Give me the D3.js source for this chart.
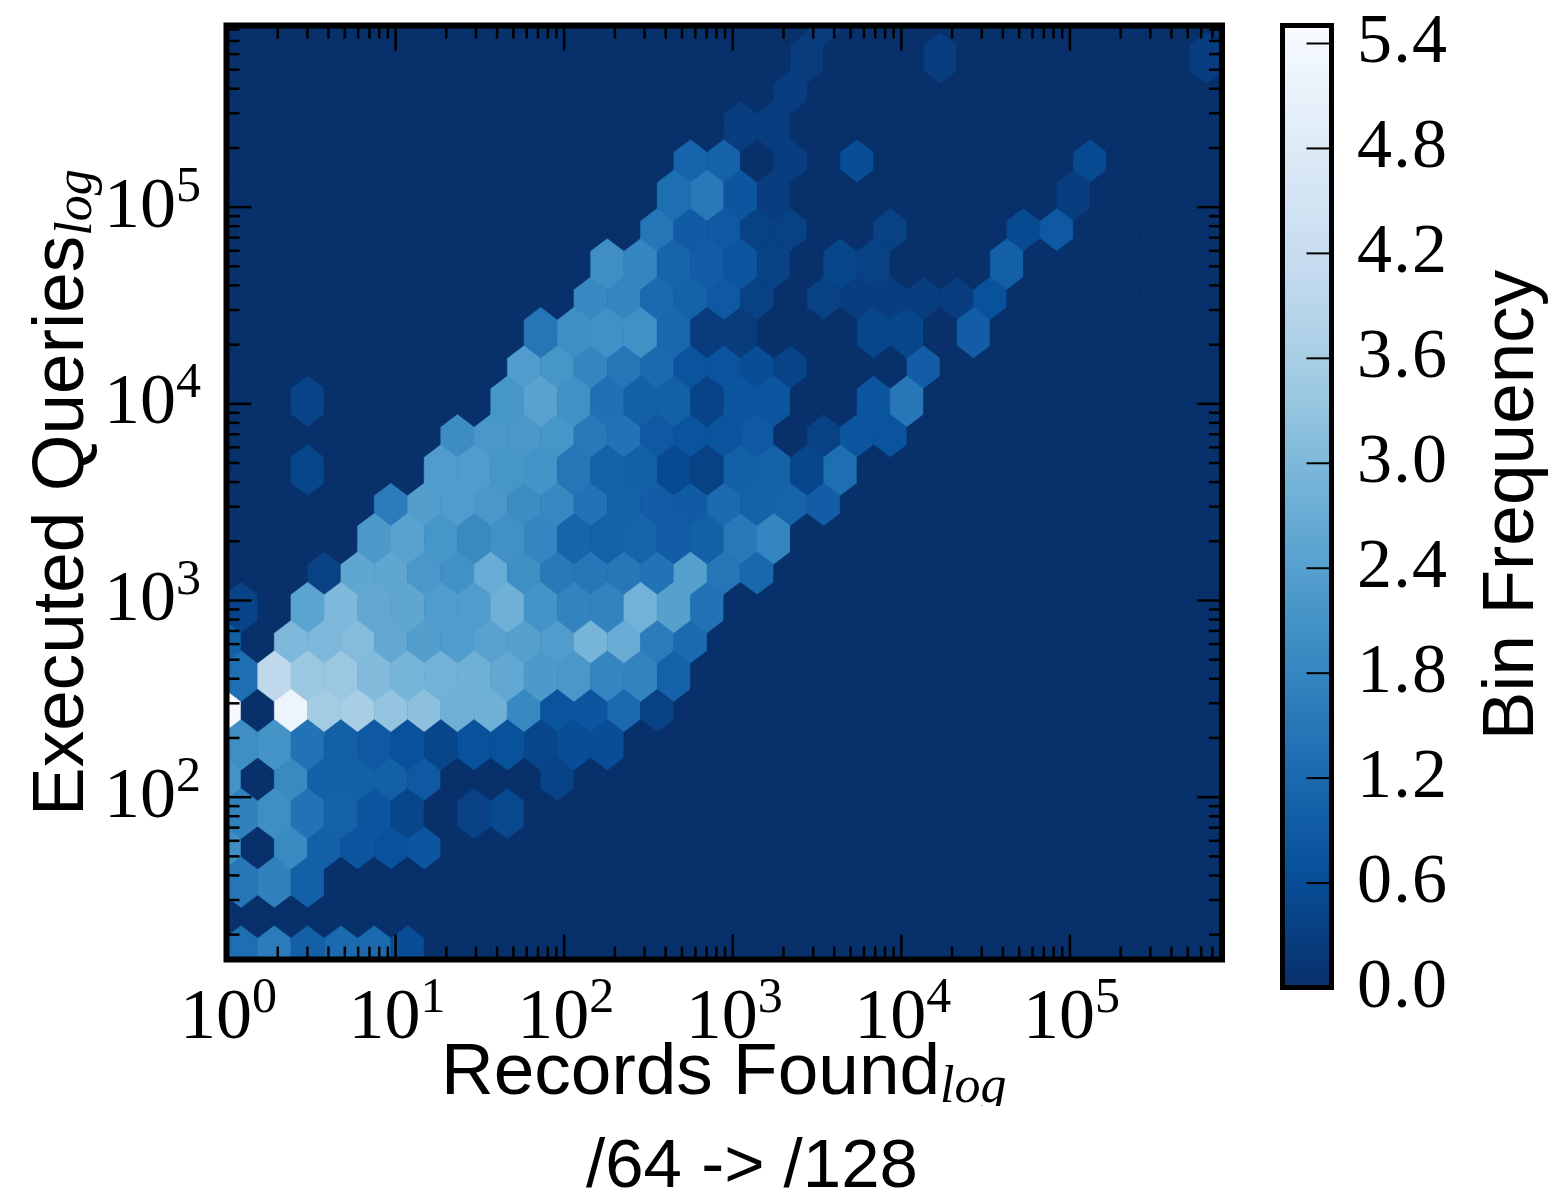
<!DOCTYPE html>
<html>
<head>
<meta charset="utf-8">
<script src="https://d3js.org/d3.v7.min.js"></script>
<style>
  html, body { margin: 0; padding: 0; background: #fff; }
  svg { display: block; filter: blur(0.6px); }
  text { fill: #000; }
  .sans { font-family: "Liberation Sans", Arial, sans-serif; font-size: 73px; }
  .serif { font-family: "Liberation Serif", serif; font-size: 72px; }
  .sub { font-family: "Liberation Serif", serif; font-style: italic; font-size: 52px; }
</style>
</head>
<body>
<svg id="chart" width="1554" height="1194"></svg>
<script>
// colormap, dark to light (Blues reversed)
var bluesStops = ["#08306b", "#08519c", "#2171b5", "#4292c6", "#6baed6", "#9ecae1", "#c6dbef", "#deebf7", "#f7fbff"];
var binMax = 5.5;
var binTicks = [0, 0.6, 1.2, 1.8, 2.4, 3.0, 3.6, 4.2, 4.8, 5.4];
var decades = [1, 10, 100, 1000, 10000, 100000];
var xDecades = [0, 1, 2, 3, 4, 5];
var yDecades = [2, 3, 4, 5];

// lattice A, one array per row, bottom row first. index = column
var a0 = [1.3, 1.6, 1.0, 1.2, 1.2, 0.6];
var a1 = [1.5, 1.7, 1.0];
var a2 = [1.7, 2.0, 1.4, 1.05, 0.8, 0.45, 0, 0.35, 0.5];
var a3 = [2.0, 2.1, 1.4, 1.0, 0.85, 0.7, 0.45, 0.7, 0.7, 0.45, 0.6, 0.6];
var a4 = [1.3, 4.0, 3.4, 3.4, 3.05, 2.9, 2.85, 2.8, 2.6, 2.25, 2.2, 1.8, 1.75, 1.05];
var a5 = [0.4, 0, 2.5, 3.0, 2.6, 2.55, 2.3, 2.3, 2.8, 2.1, 1.75, 1.75, 2.85, 2.4, 1.4];
var a6 = [0, 0, 0, 0, 2.25, 2.45, 2.15, 1.9, 2.05, 1.8, 1.1, 1.05, 1.1, 0.95, 1.0, 1.55, 1.8];
var a7 = [0, 0, 0.45, 0, 0, 0, 2.3, 2.3, 2.15, 2.1, 1.45, 1.05, 1.0, 0.55, 0.35, 1.0, 1.05, 0.45, 1.3];
var a8 = [0, 0, 0.4, 0, 0, 0, 0, 0, 2.15, 2.45, 2.05, 1.35, 1.0, 1.0, 0.4, 0.8, 0.8, 0, 0, 0.8, 1.5];
var a9 = [0, 0, 0, 0, 0, 0, 0, 0, 0, 1.45, 2.0, 2.05, 2.05, 1.15, 0.25, 0.25, 0, 0, 0, 0.45, 0.45, 0, 0.95];
var a10 = [0, 0, 0, 0, 0, 0, 0, 0, 0, 0, 0, 2.0, 1.8, 1.1, 0.95, 0.8, 0.35, 0, 0.45, 0.35, 0, 0, 0, 1.0];
var a11 = [0, 0, 0, 0, 0, 0, 0, 0, 0, 0, 0, 0, 0, 1.3, 1.55, 0.8, 0.3, 0, 0, 0, 0, 0, 0, 0, 0, 0.3];
var a12 = [0, 0, 0, 0, 0, 0, 0, 0, 0, 0, 0, 0, 0, 0, 0, 0.3, 0.3];
var a13 = [0, 0, 0, 0, 0, 0, 0, 0, 0, 0, 0, 0, 0, 0, 0, 0, 0, 0.25, 0, 0, 0, 0.3, 0, 0, 0, 0, 0, 0, 0, 0.3];

// lattice B, same idea
var b0 = [];
var b1 = [2.0, 0, 1.9, 1.0, 0.8, 0.7, 0.8];
var b2 = [2.1, 0, 1.9, 1.0, 1.0, 1.0, 0.85, 0, 0, 0, 0.4];
var b3 = [5.5, 0, 5.2, 3.5, 3.6, 3.3, 3.2, 2.8, 2.8, 1.85, 0.75, 0.8, 1.2, 0.35];
var b4 = [1.0, 0, 3.0, 3.0, 3.1, 2.6, 2.35, 2.3, 2.45, 2.4, 2.3, 2.9, 2.7, 1.6, 1.25];
var b5 = [0, 0, 0, 0.35, 2.55, 2.55, 2.2, 2.05, 2.7, 2.0, 1.55, 1.5, 1.5, 1.4, 2.4, 1.45, 1.15];
var b6 = [0, 0, 0, 0, 0, 1.6, 2.35, 2.3, 2.2, 1.95, 1.85, 1.4, 1.05, 0.95, 0.9, 1.25, 1.05, 1.1, 0.95];
var b7 = [0, 0, 0, 0, 0, 0, 0, 1.95, 2.2, 2.2, 2.15, 1.55, 1.4, 0.85, 0.75, 0.75, 0.85, 0, 0.35, 0.8, 0.75];
var b8 = [0, 0, 0, 0, 0, 0, 0, 0, 0, 2.3, 2.15, 1.8, 1.45, 1.2, 0.75, 0.75, 0.6, 0.4, 0, 0, 0, 0.95];
var b9 = [0, 0, 0, 0, 0, 0, 0, 0, 0, 0, 0, 1.85, 1.8, 1.2, 1.05, 0.85, 0.35, 0, 0.35, 0.3, 0.3, 0.3, 0.3, 0.7];
var b10 = [0, 0, 0, 0, 0, 0, 0, 0, 0, 0, 0, 0, 0, 1.45, 0.9, 0.85, 0.35, 0.35, 0, 0, 0.35, 0, 0, 0, 0.55, 0.85];
var b11 = [0, 0, 0, 0, 0, 0, 0, 0, 0, 0, 0, 0, 0, 0, 1.1, 1.05, 0, 0.3, 0, 0.6, 0, 0, 0, 0, 0, 0, 0.55];
var b12 = [0, 0, 0, 0, 0, 0, 0, 0, 0, 0, 0, 0, 0, 0, 0, 0, 0, 0.3];
var b13 = [0, 0, 0, 0, 0, 0, 0, 0, 0, 0, 0, 0, 0, 0, 0, 0, 0, 0, 0.25];

var rowsA = [a0, a1, a2, a3, a4, a5, a6, a7, a8, a9, a10, a11, a12, a13];
var rowsB = [b0, b1, b2, b3, b4, b5, b6, b7, b8, b9, b10, b11, b12, b13];

// hex grid in log10 units
var colStep = 0.1975, rowStep = 0.3493;
var hexHalfW = 0.09875, hexHalfH = 0.1286;
var latA = { x0: 0.086, y0: 1.2155 };
var latB = { x0: -0.0128, y0: 1.3902 };
var nCols = 31;

var svg = d3.select("#chart");

var x = d3.scaleLog().domain([1, Math.pow(10, 5.905)]).range([226.5, 1222]);
var y = d3.scaleLog().domain([Math.pow(10, 1.172), Math.pow(10, 5.921)]).range([959.5, 25.5]);
var color = d3.scaleLinear()
  .domain(bluesStops.map(function (c, i) { return i / (bluesStops.length - 1) * binMax; }))
  .range(bluesStops)
  .interpolate(d3.interpolateRgb);
var barY = d3.scaleLinear().domain([0, binMax]).range([987.5, 25.5]);

var defs = svg.append("defs");
defs.append("clipPath").attr("id", "plotClip").append("rect")
  .attr("x", x.range()[0]).attr("y", y.range()[1])
  .attr("width", x.range()[1] - x.range()[0]).attr("height", y.range()[0] - y.range()[1]);
// the source picture cuts the x label just under the baseline
defs.append("clipPath").attr("id", "xLabelClip").append("rect")
  .attr("x", 300).attr("y", 1020).attr("width", 900).attr("height", 86);

// lattice B goes down first, lattice A paints over it (zero cells too)
var cells = [];
function addLattice(rows, lat) {
  rows.forEach(function (row, r) {
    d3.range(nCols).forEach(function (c) {
      cells.push({ lx: lat.x0 + c * colStep, ly: lat.y0 + r * rowStep, v: row[c] || 0 });
    });
  });
}
addLattice(rowsB, latB);
addLattice(rowsA, latA);

function hexPath(d) {
  var pts = [[hexHalfW, hexHalfH / 2], [0, hexHalfH], [-hexHalfW, hexHalfH / 2],
             [-hexHalfW, -hexHalfH / 2], [0, -hexHalfH], [hexHalfW, -hexHalfH / 2]];
  return "M" + pts.map(function (p) {
    return x(Math.pow(10, d.lx + p[0])) + "," + y(Math.pow(10, d.ly + p[1]));
  }).join("L") + "Z";
}

var plot = svg.append("g").attr("clip-path", "url(#plotClip)");
plot.append("rect")
  .attr("x", x.range()[0]).attr("y", y.range()[1])
  .attr("width", x.range()[1] - x.range()[0]).attr("height", y.range()[0] - y.range()[1])
  .attr("fill", color(0));
plot.selectAll("path").data(cells).enter().append("path")
  .attr("d", hexPath)
  .attr("fill", function (d) { return color(d.v); })
  .attr("stroke", function (d) { return color(d.v); })
  .attr("stroke-width", 0.5);

// ticks on all four sides, pointing in
function minorValues(scale) {
  var out = [];
  d3.range(0, 7).forEach(function (e) {
    d3.range(2, 10).forEach(function (m) {
      var v = m * Math.pow(10, e);
      if (v > scale.domain()[0] && v < scale.domain()[1]) out.push(v);
    });
  });
  return out;
}
var majorLen = 25, minorLen = 13;
function styleAxis(g, width) {
  g.select(".domain").remove();
  g.selectAll("line").attr("stroke", "#000").attr("stroke-width", width);
}
function addTicks(axisFn, scale, majors, tx, ty, sign) {
  [[majors, majorLen], [minorValues(scale), minorLen]].forEach(function (t) {
    svg.append("g")
      .attr("transform", "translate(" + tx + "," + ty + ")")
      .call(axisFn(scale).tickValues(t[0]).tickSize(sign * t[1]).tickFormat(""))
      .call(styleAxis, 2.5);
  });
}
var xMajor = decades;
var yMajor = decades.slice(2);
addTicks(d3.axisBottom, x, xMajor, 0, y.range()[0], -1);
addTicks(d3.axisTop, x, xMajor, 0, y.range()[1], -1);
addTicks(d3.axisLeft, y, yMajor, x.range()[0], 0, -1);
addTicks(d3.axisRight, y, yMajor, x.range()[1], 0, -1);

svg.append("rect")
  .attr("x", x.range()[0]).attr("y", y.range()[1])
  .attr("width", x.range()[1] - x.range()[0]).attr("height", y.range()[0] - y.range()[1])
  .attr("fill", "none").attr("stroke", "#000").attr("stroke-width", 6);

// power of ten labels
function powerLabel(sel, e) {
  sel.append("tspan").text("10");
  sel.append("tspan").attr("dy", -26).style("font-size", "50px").text(e);
}
xDecades.forEach(function (e) {
  svg.append("text").attr("class", "serif")
    .attr("x", x(Math.pow(10, e)) + 2).attr("y", 1038)
    .attr("text-anchor", "middle")
    .call(powerLabel, e);
});
yDecades.forEach(function (e) {
  svg.append("text").attr("class", "serif")
    .attr("x", 201).attr("y", y(Math.pow(10, e)) + 20)
    .attr("text-anchor", "end")
    .call(powerLabel, e);
});

// axis titles
var xLabel = svg.append("g").attr("clip-path", "url(#xLabelClip)")
  .append("text").attr("class", "sans").attr("x", 441).attr("y", 1094);
xLabel.append("tspan").text("Records Found");
xLabel.append("tspan").attr("class", "sub").attr("dy", 8).text("log");

var yLabel = svg.append("text").attr("class", "sans")
  .attr("transform", "translate(83,816) rotate(-90)");
yLabel.append("tspan").text("Executed Queries");
yLabel.append("tspan").attr("class", "sub").attr("dy", 8).text("log");

svg.append("text").attr("class", "sans")
  .attr("x", 752).attr("y", 1187).attr("text-anchor", "middle")
  .style("font-size", "69px")
  .text("/64 -> /128");

// colorbar
var barX = 1282.5, barW = 49;
var grad = defs.append("linearGradient").attr("id", "barGrad")
  .attr("x1", 0).attr("y1", 1).attr("x2", 0).attr("y2", 0);
bluesStops.forEach(function (c, i) {
  grad.append("stop").attr("offset", i / (bluesStops.length - 1)).attr("stop-color", c);
});
svg.append("rect")
  .attr("x", barX).attr("y", barY.range()[1])
  .attr("width", barW).attr("height", barY.range()[0] - barY.range()[1])
  .attr("fill", "url(#barGrad)");
svg.append("g")
  .attr("transform", "translate(" + (barX + barW) + ",0)")
  .call(d3.axisRight(barY).tickValues(binTicks).tickSize(-25).tickFormat(""))
  .call(styleAxis, 2);
svg.append("rect")
  .attr("x", barX).attr("y", barY.range()[1])
  .attr("width", barW).attr("height", barY.range()[0] - barY.range()[1])
  .attr("fill", "none").attr("stroke", "#000").attr("stroke-width", 5);
binTicks.forEach(function (t) {
  svg.append("text").attr("class", "serif")
    .style("font-size", "70px").style("letter-spacing", "1.2px")
    .attr("x", 1357).attr("y", barY(t) + 19.5)
    .text(t.toFixed(1));
});
svg.append("text").attr("class", "sans")
  .attr("transform", "translate(1533,505) rotate(-90)")
  .attr("text-anchor", "middle")
  .text("Bin Frequency");
</script>
</body>
</html>
